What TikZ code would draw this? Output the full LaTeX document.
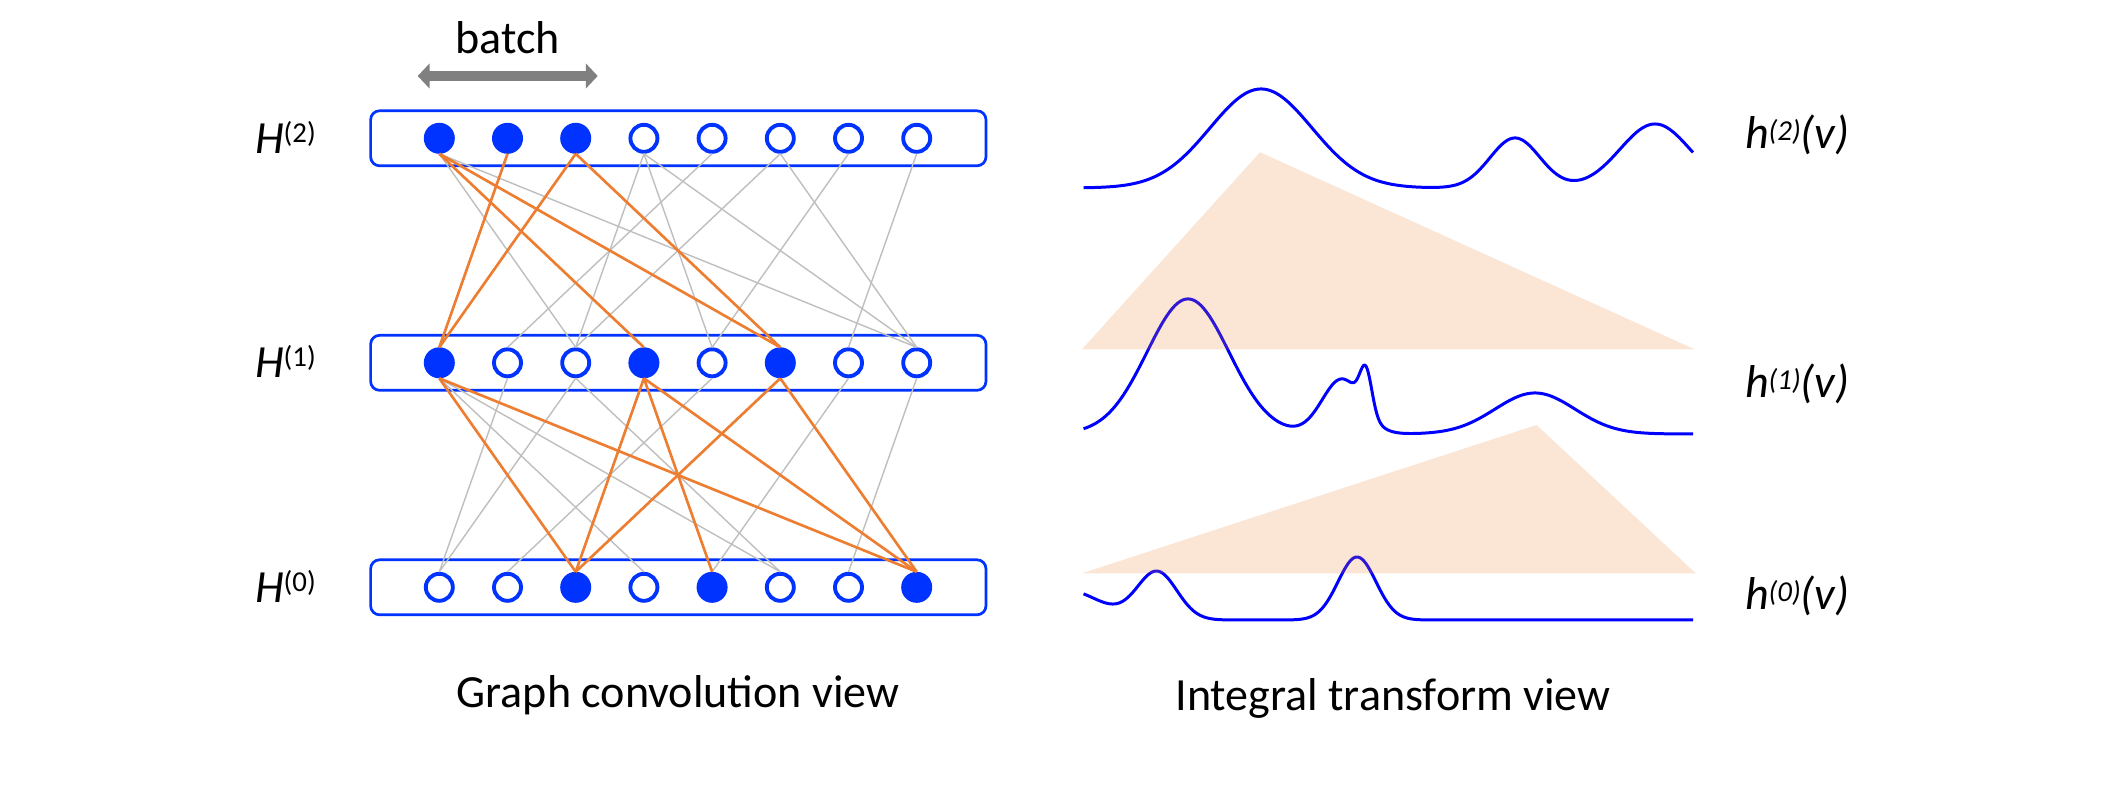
\documentclass[tikz,border=0pt]{standalone}
\usepackage{fontspec}
\setmainfont{Carlito}
\usetikzlibrary{arrows.meta}
\definecolor{nodeblue}{RGB}{0,51,255}
\definecolor{curveblue}{RGB}{0,0,255}
\definecolor{edgeorange}{RGB}{237,125,49}
\definecolor{edgegray}{RGB}{191,191,191}
\definecolor{arrowgray}{RGB}{128,128,128}
\newcommand{\suprH}[1]{\raisebox{3.2pt}{\fontsize{8.2pt}{9pt}\selectfont #1}}
\newcommand{\suprh}[1]{\raisebox{2.0pt}{\fontsize{8.2pt}{9pt}\selectfont\itshape #1}}
\begin{document}
\begin{tikzpicture}[x=0.01cm,y=-0.01cm,
  every node/.style={font=\fontsize{13.1pt}{15.7pt}\selectfont},
  txt/.style={inner sep=0pt,outer sep=0pt},
  layerbox/.style={draw=nodeblue,line width=0.77pt,rounded corners=0.09cm,minimum width=6.15cm,minimum height=0.55cm,inner sep=0pt},
  fullnode/.style={circle,fill=nodeblue,minimum size=0.31cm,inner sep=0pt,outer sep=0pt},
  opennode/.style={circle,draw=nodeblue,fill=white,line width=1.1pt,minimum size=0.27cm,inner sep=0pt},
  grayedge/.style={draw=edgegray,line width=0.4pt},
  orangeedge/.style={draw=edgeorange,line width=0.75pt},
  featcurve/.style={draw=curveblue,line width=0.85pt,line join=round},
  fanfill/.style={fill=edgeorange,fill opacity=0.2},
  batcharrow/.style={draw=arrowgray,line width=3.1pt,<->,>={Triangle[length=3.4pt,width=7pt]}},
  declare function={gs(\p,\c,\s)=exp(-min(((\p-\c)/\s)*((\p-\c)/\s)/2,9));}
]
\fill[white] (0,0) rectangle (2106,800);
\useasboundingbox (0,0) rectangle (2106,800);

% layer boxes
\node[layerbox] (L2) at (678.3,138.3) {};
\node[layerbox] (L1) at (678.3,362.8) {};
\node[layerbox] (L0) at (678.3,587.3) {};

% nodes
\foreach \i/\s in {1/fullnode,2/fullnode,3/fullnode,4/opennode,5/opennode,6/opennode,7/opennode,8/opennode}
  \node[\s] (t\i) at ({439.3+68.2*(\i-1)},138.3) {};
\foreach \i/\s in {1/fullnode,2/opennode,3/opennode,4/fullnode,5/opennode,6/fullnode,7/opennode,8/opennode}
  \node[\s] (m\i) at ({439.3+68.2*(\i-1)},362.8) {};
\foreach \i/\s in {1/opennode,2/opennode,3/fullnode,4/opennode,5/fullnode,6/opennode,7/opennode,8/fullnode}
  \node[\s] (b\i) at ({439.3+68.2*(\i-1)},587.3) {};

% edges
\foreach \a/\b in {1/3,1/8,4/3,4/5,4/8,5/2,6/3,6/8,7/5,8/7}
  \draw[grayedge] (t\a.south) -- (m\b.north);
\foreach \a/\b in {1/4,1/6,2/1,3/1,3/6,5/2,7/5,8/7}
  \draw[grayedge] (m\a.south) -- (b\b.north);
\foreach \a/\b in {1/4,1/6,2/1,3/1,3/6}
  \draw[orangeedge] (t\a.south) -- (m\b.north);
\foreach \a/\b in {1/3,1/8,4/3,4/5,4/8,6/3,6/8}
  \draw[orangeedge] (m\a.south) -- (b\b.north);

% batch arrow
\coordinate (bl) at (417.7,76);
\coordinate (br) at (597.7,76);
\draw[batcharrow] (bl) -- (br);
\node[txt,anchor=base] (batch) at (507.7,53.3) {batch};

% layer labels
\node[txt,anchor=base west] (H2) at (255,153.3) {\textit{H}\suprH{(2)}};
\node[txt,anchor=base west] (H1) at (255,377.8) {\textit{H}\suprH{(1)}};
\node[txt,anchor=base west] (H0) at (255,602.3) {\textit{H}\suprH{(0)}};

% curves
\draw[featcurve] plot[domain=1083.5:1693,samples=400,variable=\t]
  ({\t},{188-99*gs(\t,1261,51)-50*gs(\t,1515,25)-64*gs(\t,1655,35)});
\draw[featcurve] plot[domain=1083.5:1693,samples=600,variable=\t]
  ({\t},{434-135*gs(\t,1188,41)-55*gs(\t,1342,20)-41*gs(\t,1366,6)-41*gs(\t,1535,40)});
\draw[featcurve] plot[domain=1083.5:1693,samples=400,variable=\t]
  ({\t},{620-30*gs(\t,1065,35)-48*gs(\t,1157,20)-63*gs(\t,1357,19)});

% integral kernels
\fill[fanfill] (1082,349.3) -- (1260,152.3) -- (1694.5,349.3) -- cycle;
\fill[fanfill] (1082,573.3) -- (1536.5,425) -- (1695.7,573.3) -- cycle;

% function labels
\node[txt,anchor=base west] (h2) at (1745,148) {\textit{h}\suprh{(2)}\textit{(v)}};
\node[txt,anchor=base west] (h1) at (1745,397) {\textit{h}\suprh{(1)}\textit{(v)}};
\node[txt,anchor=base west] (h0) at (1745,609) {\textit{h}\suprh{(0)}\textit{(v)}};

% captions
\node[txt,anchor=base] (cap1) at (678,707) {Graph convolution view};
\node[txt,anchor=base] (cap2) at (1393,710) {Integral transform view};
\end{tikzpicture}
\end{document}
